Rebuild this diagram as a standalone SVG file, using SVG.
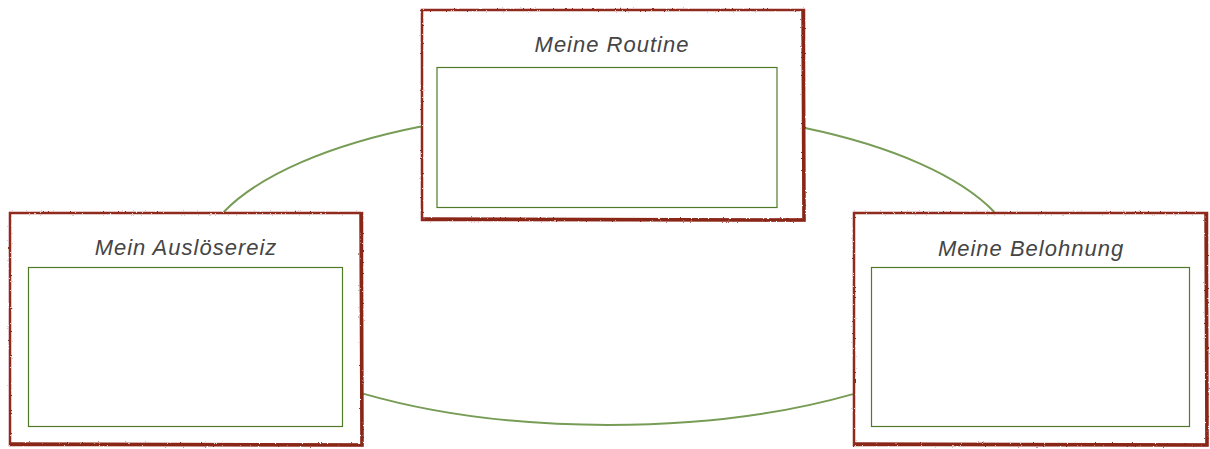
<svg xmlns="http://www.w3.org/2000/svg" width="1210" height="449" viewBox="0 0 1210 449">
  <style>
    .frame { fill: #ffffff; stroke: #8f2a1e; stroke-width: 2.5; filter: url(#rough); }
    .shade { fill: none; stroke: #8a2519; stroke-width: 3.5; filter: url(#rough); }
    .inner { fill: #ffffff; stroke: #4f7a28; stroke-width: 1.2; }
    .title { font-family: "Liberation Sans", "DejaVu Sans", sans-serif; font-style: italic; font-size: 22px; fill: #454545; text-anchor: middle; letter-spacing: 1px; }
    .link { fill: none; stroke: #779c55; stroke-width: 2; }
  </style>
  <defs>
    <filter id="rough" x="-5%" y="-5%" width="110%" height="110%">
      <feTurbulence type="fractalNoise" baseFrequency="0.6" numOctaves="2" seed="3" result="n"/>
      <feDisplacementMap in="SourceGraphic" in2="n" scale="2.2" xChannelSelector="R" yChannelSelector="G"/>
    </filter>
  </defs>
  <rect width="1210" height="449" fill="#ffffff"/>
  <g id="connectors">
    <path class="link" d="M 223.7 212 A 411 158 0 0 1 421 126.5"/>
    <path class="link" d="M 805 128.1 A 411 158 0 0 1 994.3 212"/>
    <path class="link" d="M 363 393.6 A 411 158 0 0 0 853 394.1"/>
  </g>
  <g id="node-routine">
    <rect class="frame" x="422" y="10" width="382" height="210"/>
    <path class="shade" d="M 803 11 L 804 220 L 423 219"/>
    <text class="title" x="612" y="52">Meine Routine</text>
    <rect class="inner" x="437" y="67.5" width="340" height="140"/>
  </g>
  <g id="node-ausloeser">
    <rect class="frame" x="10" y="213" width="352" height="232"/>
    <path class="shade" d="M 361 214 L 362 445 L 11 444"/>
    <text class="title" x="186" y="255">Mein Auslösereiz</text>
    <rect class="inner" x="28.5" y="267.5" width="314" height="159"/>
  </g>
  <g id="node-belohnung">
    <rect class="frame" x="854" y="213" width="353" height="232"/>
    <path class="shade" d="M 1206 214 L 1207 445 L 855 444"/>
    <text class="title" x="1031" y="256">Meine Belohnung</text>
    <rect class="inner" x="871.5" y="267.5" width="318" height="159"/>
  </g>
</svg>
